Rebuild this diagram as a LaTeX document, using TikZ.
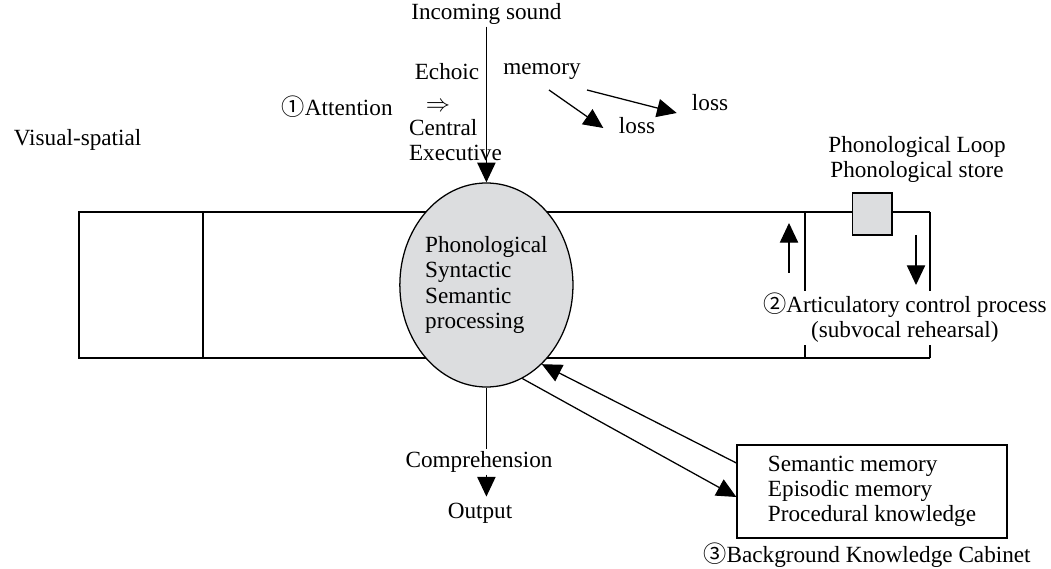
\documentclass[tikz,border=0pt]{standalone}
\usepackage{fontspec}
\setmainfont{Liberation Serif}
\newfontfamily\cjk{Noto Sans CJK JP}
\usepackage{tikz}
\usetikzlibrary{calc,arrows.meta,shapes.geometric}
\definecolor{procgray}{RGB}{220,221,223}
\newcommand{\circnum}[1]{{\cjk #1}}

\tikzset{
	arr/.style={line width=0.9pt,-{Triangle[length=14pt,width=13pt]}},
	txt/.style={font=\fontsize{16.5}{18}\selectfont, inner sep=1pt},
}

\begin{document}
\begin{tikzpicture}[line width=0.9pt, every node/.style={txt}]
		\useasboundingbox (0,0) rectangle (26.275,14.2);
		%%%%% START %%%%%
		\node (vs) at (1.94,10.7) {Visual-spatial};
		
		\node[align=center] (art) at (22.62,6.25) {\circnum{②}Articulatory control process\\(subvocal rehearsal)};
		
		\draw (23.25,8.9) -- (1.975,8.9) -- (1.975,5.25) -- (23.25,5.25);
		\draw (5.075,8.9) -- (5.075,5.25);
		\draw (20.125,8.9) -- (20.125,0 |- art.north);
		\draw (20.125,5.25) -- (20.125,0 |- art.south);
		\draw (23.25,8.9) -- (23.25,0 |- art.north);
		\draw (23.25,5.25) -- (23.25,0 |- art.south);
		
		\node[draw, fill=procgray, minimum width=0.98cm, minimum height=1.05cm, inner sep=0] (store) at (21.81,8.85) {};
		\node[align=center] (loop) at (22.925,10.21) {Phonological Loop\\Phonological store};
		
		\coordinate (up1) at (19.725,7.375);
		\coordinate (up2) at (19.725,8.625);
		\draw[arr] (up1) -- (up2);
		\coordinate (dn1) at (22.9,8.325);
		\coordinate (dn2) at (22.9,7.075);
		\draw[arr] (dn1) -- (dn2);
		
		\node[ellipse, draw, fill=procgray, minimum width=4.25cm, minimum height=5.1cm, inner sep=0, align=left] (proc) at (12.16,7.075) {Phonological\\Syntactic\\Semantic\\processing};
		
		\node (snd) at (12.16,13.85) {Incoming sound};
		\draw[arr] (snd.south) -- (proc.north);
		
		\node (echo) at (11.175,12.4) {Echoic};
		\node (mem) at (13.55,12.4) {memory};
		\node (att) at (8.43,11.525) {\circnum{①}Attention};
		\node (imp) at (10.95,11.525) {$\Rightarrow$};
		\node[anchor=west, align=left] (ce) at (10.175,10.69) {Central\\Executive};
		
		\node (lossa) at (15.925,11.05) {loss};
		\node (lossb) at (17.75,11.625) {loss};
		\coordinate (ma) at (13.725,11.95);
		\coordinate (mb) at (14.675,11.95);
		\draw[arr] (ma) -- ([xshift=-0.34cm,yshift=-0.05cm]lossa.west);
		\draw[arr] (mb) -- ([xshift=-0.33cm,yshift=-0.25cm]lossb.west);
		
		\node (comp) at (11.975,2.65) {Comprehension};
		\node (out) at (12.0,1.375) {Output};
		\draw (proc.south) -- (proc.south |- comp.north);
		\draw[arr, shorten >=3pt] (proc.south |- comp.south) -- (proc.south |- out.north);
		
		\node[draw, align=left, minimum width=6.75cm, minimum height=2.325cm] (cab) at (21.8,1.9125) {Semantic memory\\Episodic memory\\Procedural knowledge};
		\node (cabt) at (21.675,0.325) {\circnum{③}Background Knowledge Cabinet};
		
		\draw[arr] ([yshift=0.7125cm]cab.west) -- (proc.-55);
		\draw[arr] (proc.-69) -- ([yshift=-0.1375cm]cab.west);
		%%%%% END %%%%%
\end{tikzpicture}
\end{document}
